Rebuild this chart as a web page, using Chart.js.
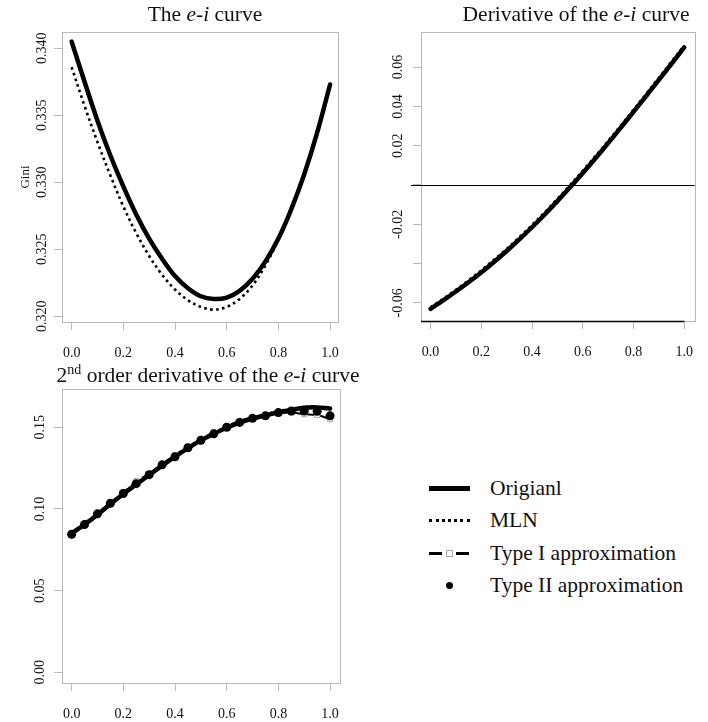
<!DOCTYPE html>
<html>
<head>
<meta charset="utf-8">
<script src="https://cdn.jsdelivr.net/npm/chart.js@4.4.0/dist/chart.umd.min.js"></script>
<style>
  body { margin: 0; background: #fff; }
  #wrap { position: relative; width: 708px; height: 722px; overflow: hidden;
          font-family: "Liberation Serif", "Times New Roman", serif; color: #111; }
  canvas { position: absolute; }
  .ttl { position: absolute; font-size: 21.5px; line-height: 22px; white-space: nowrap; transform: translateX(-50%); }
  .ttl sup { font-size: 14px; line-height: 0; vertical-align: 8px; }
  .row { position: absolute; left: 429px; width: 279px; height: 22px; font-size: 21.5px; line-height: 22px; white-space: nowrap; }
  .lab { position: absolute; left: 61px; top: 0; }
  .sym { position: absolute; }
</style>
</head>
<body>
<div id="wrap">
  <canvas id="c1" width="354" height="361" style="left:0;top:0"></canvas>
  <canvas id="c2" width="354" height="361" style="left:354px;top:0"></canvas>
  <canvas id="c3" width="354" height="361" style="left:0;top:361px"></canvas>

  <div class="ttl" style="left:205px;top:3px">The <i>e-i</i> curve</div>
  <div class="ttl" style="left:576px;top:3px">Derivative of the <i>e-i</i> curve</div>
  <div class="ttl" style="left:208px;top:364px">2<sup>nd</sup> order derivative of the <i>e-i</i> curve</div>

  <div class="row" style="top:477px">
    <div class="sym" style="left:0;top:9px;width:41px;height:4.5px;background:#000"></div>
    <div class="lab">Origianl</div>
  </div>
  <div class="row" style="top:509px">
    <div class="sym" style="left:0;top:10px;width:41px;border-top:3px dotted #000"></div>
    <div class="lab">MLN</div>
  </div>
  <div class="row" style="top:542px">
    <div class="sym" style="left:0;top:10px;width:13px;height:2.5px;background:#000"></div>
    <div class="sym" style="left:17px;top:8px;width:5px;height:5px;border:1px solid #aaa;background:#fff"></div>
    <div class="sym" style="left:27px;top:10px;width:13px;height:2.5px;background:#000"></div>
    <div class="lab">Type I approximation</div>
  </div>
  <div class="row" style="top:574px">
    <div class="sym" style="left:17px;top:8px;width:7px;height:7px;border-radius:50%;background:#000"></div>
    <div class="lab">Type II approximation</div>
  </div>
</div>

<script>
// ---- data ----
var xs = [0, 0.05, 0.10, 0.15, 0.20, 0.25, 0.30, 0.35, 0.40, 0.45, 0.50,
          0.55, 0.60, 0.65, 0.70, 0.75, 0.80, 0.85, 0.90, 0.95, 1.00];

var xTicks = [0, 0.2, 0.4, 0.6, 0.8, 1.0];
var xLabels = ['0.0', '0.2', '0.4', '0.6', '0.8', '1.0'];

// panel 1: the e-i curve
var eiOriginal = [0.3405, 0.3375, 0.3346, 0.3320, 0.3297, 0.3276, 0.3258, 0.3243, 0.3230, 0.3221, 0.3215,
                  0.3213, 0.3214, 0.3219, 0.3228, 0.3241, 0.3258, 0.3280, 0.3306, 0.3337, 0.3373];
var eiMLN      = [0.3386, 0.3357, 0.3330, 0.3305, 0.3282, 0.3262, 0.3245, 0.3231, 0.3220, 0.3212, 0.3207,
                  0.3205, 0.3207, 0.3213, 0.3223, 0.3238, 0.3257, 0.3279, 0.3305, 0.3336, 0.3372];
var y1Ticks  = [0.320, 0.325, 0.330, 0.335, 0.340];
var y1Labels = ['0.320', '0.325', '0.330', '0.335', '0.340'];

// panel 2: first derivative
var d1Original = [-0.0630, -0.0587, -0.0542, -0.0495, -0.0445, -0.0392, -0.0336, -0.0277, -0.0215, -0.0150, -0.0082,
                  -0.0012, 0.0061, 0.0136, 0.0213, 0.0292, 0.0372, 0.0453, 0.0535, 0.0617, 0.0700];
var d1MLN      = [-0.0623, -0.0579, -0.0533, -0.0485, -0.0434, -0.0381, -0.0325, -0.0266, -0.0204, -0.0139, -0.0071,
                  -0.0001, 0.0072, 0.0147, 0.0224, 0.0303, 0.0383, 0.0464, 0.0546, 0.0628, 0.0710];
var y2Ticks  = [-0.06, -0.04, -0.02, 0, 0.02, 0.04, 0.06];
var y2Labels = ['-0.06', '', '-0.02', '', '0.02', '0.04', '0.06'];

// panel 3: second derivative
var d2Original = [0.0850, 0.0905, 0.0965, 0.1030, 0.1092, 0.1150, 0.1208, 0.1265, 0.1320, 0.1372, 0.1420,
                  0.1460, 0.1497, 0.1528, 0.1553, 0.1573, 0.1592, 0.1607, 0.1620, 0.1622, 0.1615];
var d2MLN      = [0.0855, 0.0912, 0.0968, 0.1038, 0.1095, 0.1158, 0.1212, 0.1272, 0.1322, 0.1378, 0.1425,
                  0.1465, 0.1500, 0.1535, 0.1558, 0.1580, 0.1598, 0.1612, 0.1625, 0.1620, 0.1605];
var d2TypeI    = [0.0840, 0.0905, 0.0975, 0.1035, 0.1100, 0.1170, 0.1215, 0.1275, 0.1330, 0.1380, 0.1430,
                  0.1470, 0.1505, 0.1540, 0.1560, 0.1575, 0.1585, 0.1590, 0.1580, 0.1575, 0.1550];
var d2TypeII   = [0.0845, 0.0905, 0.0970, 0.1035, 0.1095, 0.1155, 0.1210, 0.1270, 0.1320, 0.1375, 0.1420,
                  0.1460, 0.1500, 0.1530, 0.1555, 0.1570, 0.1590, 0.1600, 0.1600, 0.1598, 0.1570];
var y3Ticks  = [0, 0.05, 0.10, 0.15];
var y3Labels = ['0.00', '0.05', '0.10', '0.15'];

// ---- helpers ----
var FONT = '"Liberation Serif", "Times New Roman", serif';
var GREY = '#b9b9b9';
var TICK = 8;
Chart.defaults.font.family = FONT;
Chart.defaults.color = '#111';

function pts(ys) {
  return xs.map(function(x, i) { return { x: x, y: ys[i] }; });
}

function textWidth(s, size) {
  var c = document.createElement('canvas').getContext('2d');
  c.font = size + 'px ' + FONT;
  return c.measureText(s).width;
}

var boxPlugin = {
  id: 'box',
  beforeDatasetsDraw: function(chart) {
    var a = chart.chartArea, ctx = chart.ctx;
    ctx.save();
    ctx.strokeStyle = GREY;
    ctx.lineWidth = 1;
    ctx.strokeRect(Math.round(a.left) + 0.5, Math.round(a.top) + 0.5,
                   Math.round(a.right - a.left), Math.round(a.bottom - a.top));
    ctx.restore();
  }
};

var zeroLine = {
  id: 'zeroLine',
  afterDatasetsDraw: function(chart) {
    var a = chart.chartArea, ctx = chart.ctx;
    var y0 = Math.round(chart.scales.y.getPixelForValue(0)) + 0.5;
    var x1 = chart.scales.x.getPixelForValue(1);
    ctx.save();
    ctx.strokeStyle = '#000';
    ctx.lineWidth = 1.2;
    ctx.beginPath();
    ctx.moveTo(a.left - 10, y0);
    ctx.lineTo(a.right, y0);
    ctx.stroke();
    ctx.lineWidth = 1.5;
    ctx.beginPath();
    ctx.moveTo(a.left, Math.round(a.bottom) + 0.5);
    ctx.lineTo(x1, Math.round(a.bottom) + 0.5);
    ctx.stroke();
    ctx.restore();
  }
};

function solid(ys) {
  return { data: pts(ys), borderColor: '#000', borderWidth: 4.5, pointRadius: 0, tension: 0.35,
           borderCapStyle: 'round', order: 3 };
}
function dotted(ys) {
  return { data: pts(ys), borderColor: '#000', borderWidth: 2.6, borderDash: [2.6, 3.4], pointRadius: 0,
           tension: 0.35, order: 2 };
}

function panel(id, o) {
  var widest = Math.max.apply(null, o.yLabels.map(function(s) { return textWidth(s, 14); }));
  var yPad = o.axisW - TICK - widest / 2 - o.labelX;
  return new Chart(document.getElementById(id), {
    type: 'line',
    data: { datasets: o.datasets },
    options: {
      responsive: false,
      animation: false,
      events: [],
      layout: { padding: { left: 0, top: o.top, right: o.right, bottom: 0 } },
      plugins: { legend: { display: false }, tooltip: { enabled: false } },
      scales: {
        x: {
          type: 'linear', min: o.xMin, max: o.xMax,
          afterBuildTicks: function(s) { s.ticks = xTicks.map(function(v) { return { value: v }; }); },
          afterFit: function(s) { s.height = o.xAxisH; },
          border: { display: false },
          grid: { drawOnChartArea: false, drawTicks: true, tickLength: TICK, color: GREY },
          ticks: { font: { size: 14 }, color: '#111', padding: 15, maxRotation: 0, autoSkip: false,
                   callback: function(v, i) { return xLabels[i]; } }
        },
        y: {
          type: 'linear', min: o.yMin, max: o.yMax,
          afterBuildTicks: function(s) { s.ticks = o.yTicks.map(function(v) { return { value: v }; }); },
          afterFit: function(s) { s.width = o.axisW; },
          border: { display: false },
          grid: { drawOnChartArea: false, drawTicks: true, tickLength: TICK, color: GREY },
          title: o.yTitle ? { display: true, text: o.yTitle, font: { size: 13 }, color: '#111',
                              padding: { top: 18, bottom: 0 } } : { display: false },
          ticks: { font: { size: 14 }, color: '#111', padding: yPad, crossAlign: 'center',
                   minRotation: 90, maxRotation: 90, autoSkip: false,
                   callback: function(v, i) { return o.yLabels[i]; } }
        }
      }
    },
    plugins: [boxPlugin].concat(o.extra || [])
  });
}

// ---- panels ----
panel('c1', {
  datasets: [solid(eiOriginal), dotted(eiMLN)],
  top: 32, right: 6, axisW: 62, xAxisH: 39, labelX: 42,
  xMin: -0.0373, xMax: 1.0299, yMin: 0.319575, yMax: 0.341216,
  yTicks: y1Ticks, yLabels: y1Labels, yTitle: 'Gini'
});

panel('c2', {
  datasets: [solid(d1Original), dotted(d1MLN)],
  top: 32, right: 0, axisW: 67, xAxisH: 40, labelX: 44,
  xMin: -0.0376, xMax: 1.0414, yMin: -0.06921, yMax: 0.07786,
  yTicks: y2Ticks, yLabels: y2Labels, extra: [zeroLine]
});

panel('c3', {
  datasets: [
    solid(d2Original),
    dotted(d2MLN),
    { data: pts(d2TypeI), borderColor: '#000', borderWidth: 2, borderDash: [8, 5], tension: 0.3,
      pointStyle: 'rect', pointRadius: 3.5, pointBorderWidth: 1, pointBorderColor: '#aaa',
      pointBackgroundColor: '#fff', order: 1 },
    { data: pts(d2TypeII), showLine: false, pointStyle: 'circle', pointRadius: 4.5,
      pointBackgroundColor: '#000', pointBorderColor: '#000', pointBorderWidth: 0, order: 0 }
  ],
  top: 28, right: 4, axisW: 62, xAxisH: 39, labelX: 40,
  xMin: -0.0373, xMax: 1.0373, yMin: -0.00655, yMax: 0.17345,
  yTicks: y3Ticks, yLabels: y3Labels
});
</script>
</body>
</html>
